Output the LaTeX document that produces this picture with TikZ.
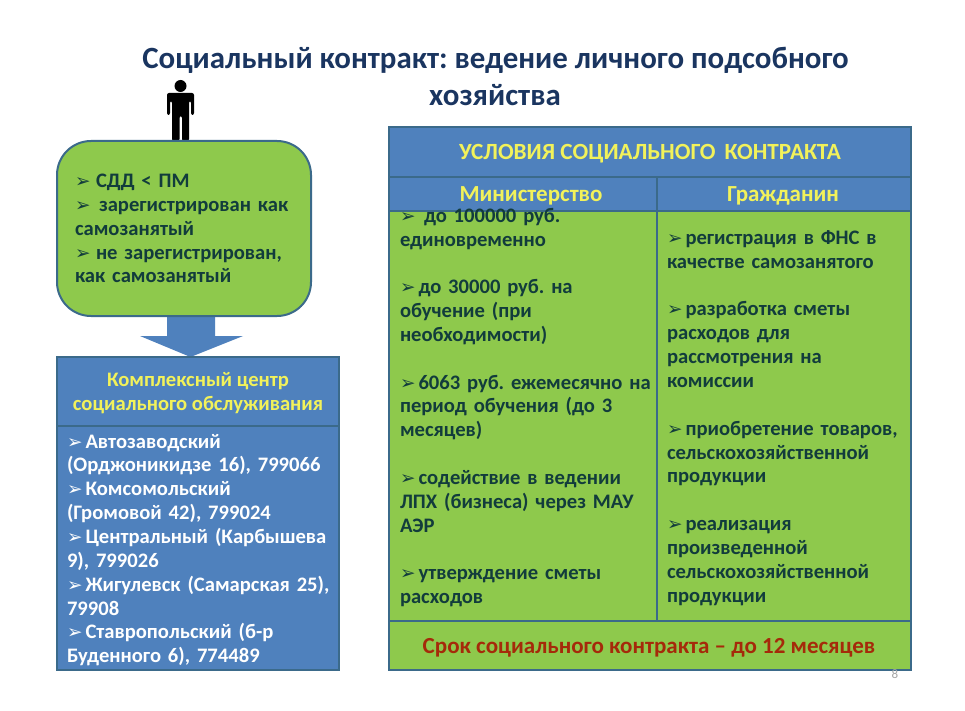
\documentclass[tikz,border=0pt]{standalone}
\usepackage{fontspec}
\setmainfont{Carlito}
\newfontfamily\bodyf{Carlito}[WordSpace=0.8]
\newfontfamily\symf{DejaVu Sans}
\frenchspacing
\definecolor{grn}{HTML}{8EC94C}
\definecolor{blu}{HTML}{4F81BD}
\definecolor{edg}{HTML}{3B6A8A}
\definecolor{ttl}{HTML}{1A3560}
\definecolor{dk}{HTML}{123C3C}
\definecolor{yel}{HTML}{F2F25A}
\definecolor{rd}{HTML}{A52A0A}
\newcommand{\blt}{\makebox[18.5pt][l]{\raisebox{0pt}[0pt][0pt]{\symf\fontsize{18.5}{18.5}\selectfont\char"27A2}}}
\tikzset{x=1pt,y=-1pt,
 box/.style={draw=edg,line width=2pt,fill=#1,inner sep=0pt,outer sep=0pt},
 txt/.style={inner sep=0pt,outer sep=0pt,anchor=north west,align=left,font=\bodyf\bfseries\fontsize{20.6}{23.85}\selectfont,text=#1},
 hdr/.style={inner sep=0pt,outer sep=0pt,align=center,font=\bfseries\fontsize{19.5}{24}\selectfont,text=#1}}
\begin{document}
\begin{tikzpicture}
\useasboundingbox (0,0) rectangle (965,711);
\fill[white] (0,0) rectangle (965,711);
% title
\node[hdr=ttl,font=\bfseries\fontsize{30.9}{32}\selectfont] (t1) at (495.5,60) {Социальный контракт: ведение личного подсобного};
\node[hdr=ttl,font=\bfseries\fontsize{30.9}{32}\selectfont] (t2) at (495,95) {хозяйства};
% person
\fill[black] (180.5,86) circle (6);
\fill[black,rounded corners=2pt] (167,93) -- (194,93) -- (194,115) -- (191,115) -- (191,101) -- (189,101) -- (189,141) -- (182,141) -- (182,116) -- (179.5,116) -- (179.5,141) -- (172,141) -- (172,101) -- (170,101) -- (170,115) -- (167,115) -- cycle;
% arrow
\coordinate (as) at (191,316);
\coordinate (ae) at (190.5,357);
\fill[blu] (167,316) -- (215,316) -- (215,336) -- (243,336) -- (ae) -- (140,336) -- (167,336) -- cycle;
% left green
\node[box=grn,rounded corners=34pt,minimum width=254pt,minimum height=175pt] (g) at (184,228.5) {};
\node[txt=dk,text width=240pt] (gt) at (75,174) {\makebox[21pt][l]{\blt}СДД < ПМ\\\makebox[24pt][l]{\blt}зарегистрирован как\\самозанятый\\\makebox[21pt][l]{\blt}не зарегистрирован,\\как самозанятый};
% left blue
\node[box=blu,minimum width=282pt,minimum height=69pt] (h) at (198,391.5) {};
\node[hdr=yel,font=\bfseries\fontsize{20.6}{24}\selectfont] (ht) at (198,393) {Комплексный центр\\социального обслуживания};
\node[box=blu,minimum width=282pt,minimum height=244pt] (l) at (198,548) {};
\node[txt=white,text width=272pt] (lt) at (67,434) {\blt Автозаводский\\(Орджоникидзе 16), 799066\\\blt Комсомольский\\(Громовой 42), 799024\\\blt Центральный (Карбышева\\9), 799026\\\blt Жигулевск (Самарская 25),\\79908\\\blt Ставропольский (б-р\\Буденного 6), 774489};
% right table
\node[box=blu,minimum width=522pt,minimum height=50pt] (rh) at (650,152) {};
\node[hdr=yel,font=\bfseries\fontsize{23.2}{24}\selectfont] (rht) at (650,154) {УСЛОВИЯ СОЦИАЛЬНОГО\, КОНТРАКТА};
\node[box=blu,minimum width=268pt,minimum height=34pt] (rm) at (523,194) {};
\node[hdr=yel,font=\bfseries\fontsize{23}{24}\selectfont] (rmt) at (531,196) {Министерство};
\node[box=blu,minimum width=254pt,minimum height=34pt] (rc) at (784,194) {};
\node[hdr=yel,font=\bfseries\fontsize{23}{24}\selectfont] (rct) at (783,196) {Гражданин};
\node[box=grn,minimum width=268pt,minimum height=410pt] (bm) at (523,416) {};
\node[box=grn,minimum width=254pt,minimum height=410pt] (bc) at (784,416) {};
\node[box=grn,minimum width=522pt,minimum height=49pt] (ft) at (650,645.5) {};
\node[hdr=rd,font=\bfseries\fontsize{23}{24}\selectfont] (ftt) at (649,648) {Срок социального контракта – до 12 месяцев};
\node[txt=dk,text width=255pt] (mt) at (400,208) {\makebox[24pt][l]{\blt}до 100000 руб.\\единовременно\\[23.85pt]\blt до 30000 руб. на\\обучение (при\\необходимости)\\[23.85pt]\blt 6063 руб. ежемесячно на\\период обучения (до 3\\месяцев)\\[23.85pt]\blt содействие в ведении\\ЛПХ (бизнеса) через МАУ\\АЭР\\[23.85pt]\blt утверждение сметы\\расходов};
\node[txt=dk,text width=240pt] (ct) at (667,230.5) {\blt регистрация в ФНС в\\качестве самозанятого\\[23.85pt]\blt разработка сметы\\расходов для\\рассмотрения на\\комиссии\\[23.85pt]\blt приобретение товаров,\\сельскохозяйственной\\продукции\\[23.85pt]\blt реализация\\произведенной\\сельскохозяйственной\\продукции};
\node[inner sep=0pt,font=\fontsize{13}{13}\selectfont,text=black!35] (pg) at (895,674) {8};
\end{tikzpicture}
\end{document}
